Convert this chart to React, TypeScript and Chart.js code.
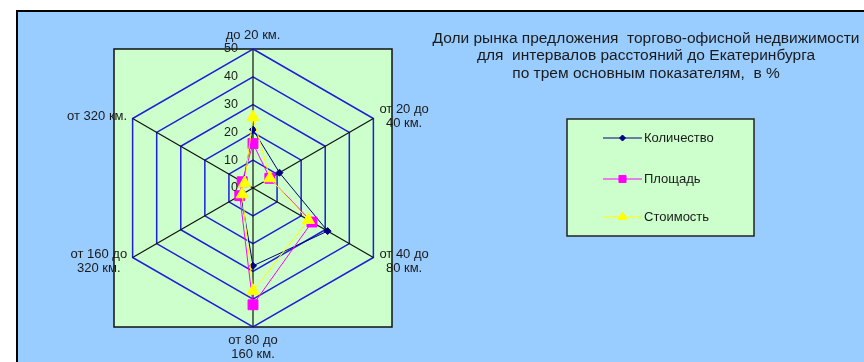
import React, { useEffect, useRef } from 'react';
import { Chart, registerables } from 'chart.js';
import { drawPoint } from 'chart.js/helpers';

Chart.register(...registerables);

const W = 864;
const H = 362;
const FONT = '"Liberation Sans", Arial, sans-serif';

const categories: string[][] = [
  ['до 20 км.'],
  ['от 20 до', '40 км.'],
  ['от 40 до', '80 км.'],
  ['от 80 до', '160 км.'],
  ['от 160 до', '320 км.'],
  ['от 320 км.'],
];
const seriesNames = ['Количество', 'Площадь', 'Стоимость'];
const countShare = [21, 11, 31, 28, 5, 4];
const areaShare = [16, 7, 24.5, 42, 5.5, 4.5];
const valueShare = [25.5, 7, 23, 37, 4.5, 3.5];
const tickValues = [0, 10, 20, 30, 40, 50];
const titleLines = [
  'Доли рынка предложения  торгово-офисной недвижимости',
  'для  интервалов расстояний до Екатеринбурга',
  'по трем основным показателям,  в %',
];

const decorPlugin = {
  id: 'decor',
  beforeDraw(chart: any) {
    const { ctx } = chart;
    const s = chart.scales.r;
    const r = s.drawingArea;
    ctx.save();
    ctx.fillStyle = '#FFFFFF';
    ctx.fillRect(0, 0, chart.width, chart.height);
    ctx.fillStyle = '#99CCFF';
    ctx.fillRect(16, 10, chart.width, chart.height);
    ctx.strokeStyle = '#000000';
    ctx.lineWidth = 2;
    ctx.beginPath();
    ctx.moveTo(17, chart.height + 5);
    ctx.lineTo(17, 11);
    ctx.lineTo(chart.width + 5, 11);
    ctx.stroke();
    ctx.fillStyle = '#CCFFCC';
    ctx.fillRect(s.xCenter - r, s.yCenter - r, 2 * r, 2 * r);
    ctx.lineWidth = 1.5;
    ctx.strokeStyle = '#111111';
    ctx.strokeRect(s.xCenter - r, s.yCenter - r, 2 * r, 2 * r);
    ctx.restore();
  },
  afterDraw(chart: any) {
    const { ctx } = chart;
    const s = chart.scales.r;
    ctx.save();
    ctx.fillStyle = '#1a1a1a';

    // radial tick labels
    ctx.font = `12.5px ${FONT}`;
    ctx.textAlign = 'right';
    ctx.textBaseline = 'middle';
    tickValues.forEach((v) => {
      const d = s.getDistanceFromCenterForValue(v);
      ctx.fillText(String(v), s.xCenter - 15, s.yCenter - d);
    });

    // point labels
    ctx.font = `13px ${FONT}`;
    const lh = 14;
    (chart.data.labels as string[][]).forEach((lines, i) => {
      const p = s.getPointPositionForValue(i, s.max);
      const widths = lines.map((l) => ctx.measureText(l).width);
      const maxW = Math.max(...widths);
      const n = lines.length;
      const dx = p.x - s.xCenter;
      let cx: number;
      let firstY: number;
      if (Math.abs(dx) < 1) {
        cx = p.x;
        if (p.y < s.yCenter) firstY = p.y - 14 - (n - 1) * lh;
        else firstY = p.y + 13.5;
      } else {
        cx = dx > 0 ? p.x + 6 + maxW / 2 : p.x - 5.5 - maxW / 2;
        const mid = p.y < s.yCenter ? p.y - 2.5 : p.y + 4;
        firstY = mid - ((n - 1) * lh) / 2;
      }
      ctx.textAlign = 'center';
      lines.forEach((l, k) => ctx.fillText(l, cx, firstY + k * lh));
    });

    // title
    ctx.font = `15.5px ${FONT}`;
    ctx.textAlign = 'center';
    titleLines.forEach((l, k) => ctx.fillText(l, 646, 38.5 + k * 17.5));

    // legend
    ctx.fillStyle = '#CCFFCC';
    ctx.fillRect(567, 119, 187, 117);
    ctx.strokeStyle = '#222222';
    ctx.lineWidth = 1.5;
    ctx.strokeRect(567, 119, 187, 117);
    const rows = [138, 179, 217];
    const legendRadius = [3, 5, 5];
    chart.data.datasets.forEach((ds: any, k: number) => {
      const y = rows[k];
      ctx.strokeStyle = ds.borderColor;
      ctx.fillStyle = ds.backgroundColor;
      ctx.lineWidth = 1;
      ctx.beginPath();
      ctx.moveTo(603, y);
      ctx.lineTo(642, y);
      ctx.stroke();
      drawPoint(ctx, { pointStyle: ds.pointStyle, radius: legendRadius[k], rotation: 0, borderWidth: 1 }, 622.5, y);
      ctx.fillStyle = '#1a1a1a';
      ctx.font = `13px ${FONT}`;
      ctx.textAlign = 'left';
      ctx.textBaseline = 'middle';
      ctx.fillText(ds.label, 644, y);
    });
    ctx.restore();
  },
};

export default function App() {
  const ref = useRef<HTMLCanvasElement | null>(null);
  useEffect(() => {
    if (!ref.current) return;
    const chart = new Chart(ref.current, {
      type: 'radar',
      data: {
        labels: categories as any,
        datasets: [
          {
            label: seriesNames[0],
            data: countShare,
            borderColor: '#000080',
            backgroundColor: '#000080',
            pointStyle: 'rectRot',
            pointRadius: 3.5,
            borderWidth: 1,
            fill: false,
            order: 2,
          },
          {
            label: seriesNames[1],
            data: areaShare,
            borderColor: '#FF00FF',
            backgroundColor: '#FF00FF',
            pointStyle: 'rect',
            pointRadius: 7,
            borderWidth: 1,
            fill: false,
            order: 1,
          },
          {
            label: seriesNames[2],
            data: valueShare,
            borderColor: '#FFFF00',
            backgroundColor: '#FFFF00',
            pointStyle: 'triangle',
            pointRadius: 7,
            borderWidth: 1,
            fill: false,
            order: 0,
          },
        ],
      },
      options: {
        responsive: false,
        animation: false,
        events: [],
        layout: { padding: { left: 114, top: 49, right: 472, bottom: 35 } },
        plugins: {
          legend: { display: false },
          title: { display: false },
          tooltip: { enabled: false },
        },
        scales: {
          r: {
            min: 0,
            max: 50,
            ticks: { display: false, stepSize: 10 },
            pointLabels: { display: false },
            grid: { color: '#1E1ED8', lineWidth: 1.5 },
            angleLines: { color: '#111111', lineWidth: 1.2 },
          },
        },
      },
      plugins: [decorPlugin],
    });
    return () => chart.destroy();
  }, []);
  return (
    <div style={{ position: 'fixed', left: 0, top: 0, width: W, height: H }}>
      <canvas ref={ref} width={W} height={H} style={{ width: W, height: H, display: 'block' }} />
    </div>
  );
}
